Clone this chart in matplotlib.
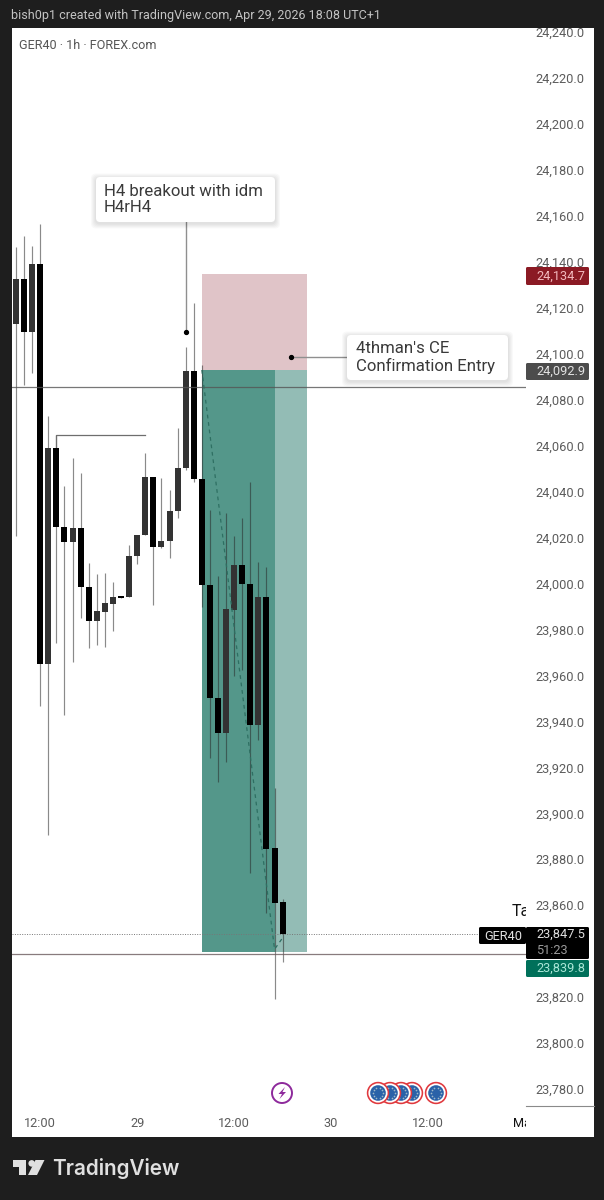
import numpy as np
import matplotlib
matplotlib.use("Agg")
import matplotlib.pyplot as plt
from matplotlib.patches import Rectangle, FancyBboxPatch, Circle, Polygon

plt.rcParams['font.family'] = ['Roboto', 'DejaVu Sans']

# ---- data ----
highs  = [24146.4,24151.2,24146.9,24156.5,24072.9,24064.6,24042.4,24054.6,24048.1,24008.9,24004.1,24004.6,24000.7,23994.3,24016.8,24021.1,24056.8,24046.3,24045.9,24040.7,24067.7,24102.9,24122.1,24095.1,24032.0,24003.3,24030.7,24020.7,24028.5,24044.2,24009.4,24007.2,23911.0,23862.7]
opens  = [24112.9,24132.5,24109.5,24139.1,23965.0,24059.0,24024.6,24018.1,24024.2,23998.5,23983.7,23987.6,23991.1,23994.3,23994.1,24012.0,24021.1,24046.3,24015.9,24018.5,24031.6,24050.3,24092.5,24045.5,23999.4,23950.2,23934.9,23988.5,24008.1,23999.8,23938.4,23994.1,23884.9,23861.4]
closes = [24132.5,24109.5,24139.1,23965.0,24059.0,24024.6,24018.1,24024.2,23998.5,23983.7,23988.0,23991.5,23994.1,23993.9,24012.0,24021.1,24046.3,24015.9,24018.5,24031.6,24050.3,24092.5,24045.5,23999.4,23950.2,23934.9,23988.9,24008.1,23999.8,23938.4,23994.1,23884.5,23861.0,23847.5]
lows   = [24020.7,24086.4,24091.6,23946.7,23890.5,23974.1,23942.8,23965.8,23985.0,23971.9,23973.2,23972.4,23979.3,23993.9,23994.1,24008.5,24021.1,23990.6,24015.5,24011.1,24028.5,24049.4,24044.2,23989.8,23924.1,23913.6,23922.3,23959.7,23962.4,23874.0,23931.9,23856.6,23819.2,23835.3]

# the 23,840 label is hidden behind the price tags in the reference
price_ticks = [p for p in range(23780, 24241, 20) if p != 23840]
time_ticks = [3, 15, 27, 39, 51, 63]
time_labels = ['12:00', '29', '12:00', '30', '12:00', 'May']

stop_price = 24134.7
entry_price = 24092.9
target_price = 23839.8
last_price = 23847.5
h_line_price = 24085.5
low_line_price = 23838.8
zone_start, zone_now, zone_end = 23.0, 32.1, 36.0
swing_price, swing_start, swing_end = 24064.6, 5, 16
idm_marker = (21, 24109.4)
ce_marker = (34, 24098.6)

# ---- layout ----
W, H = 604, 1200
fig = plt.figure(figsize=(W/100, H/100), dpi=100, facecolor='#1e1e1e')

def pix_axes(z):
    a = fig.add_axes([0, 0, 1, 1], zorder=z)
    a.set_xlim(0, W); a.set_ylim(H, 0); a.axis('off'); a.patch.set_alpha(0)
    return a

bg = pix_axes(0)
bg.add_patch(Rectangle((12, 28), 582, 1109, fc='white', ec='none'))

L, R, T, B = 12, 526, 28, 1106
ax = fig.add_axes([L/W, 1-B/H, (R-L)/W, (B-T)/H], zorder=1)
ax.patch.set_alpha(0)
for s in ax.spines.values():
    s.set_visible(False)
x0, dx = 16.0, 8.08
ax.set_xlim((L-x0)/dx, (R-x0)/dx)
k = 0.43522
ax.set_ylim(24253.95-k*B, 24253.95-k*T)
ax.yaxis.tick_right()
ax.set_yticks(price_ticks)
ax.set_yticklabels([f'{v:,.1f}' for v in price_ticks], fontsize=9.2, color='#5c5c5c')
ax.set_xticks(time_ticks)
ax.set_xticklabels(time_labels, fontsize=9.2, color='#5c5c5c')
ax.get_xticklabels()[-1].set_color('#111111')
ax.tick_params(axis='y', length=0, pad=7)
ax.tick_params(axis='x', length=0, pad=8)

# zones
ax.add_patch(Rectangle((zone_start, entry_price), zone_end-zone_start, stop_price-entry_price, fc='#e0c4c8', ec='none', zorder=1))
ax.add_patch(Rectangle((zone_start, target_price), zone_end-zone_start, entry_price-target_price, fc='#93bcb5', ec='none', zorder=1))
ax.add_patch(Rectangle((zone_start, target_price), zone_now-zone_start, entry_price-target_price, fc='#54978a', ec='none', zorder=1.1))

# horizontal lines
ax.axhline(h_line_price, color='#555555', lw=0.9, alpha=0.8, zorder=4)
ax.axhline(low_line_price, color='#6b5a5c', lw=0.9, alpha=0.8, zorder=4)
ax.axhline(last_price, color='#777777', lw=0.7, ls=(0, (1, 1.5)), zorder=4)

# candles
idx = np.arange(len(highs))
ax.vlines(idx, lows, highs, color='#2a2a2a', lw=0.85, alpha=0.55, zorder=2)
for i, o, c in zip(idx, opens, closes):
    col = '#333333' if c > o else '#000000'
    lo, hi = min(o, c), max(o, c)
    ax.add_patch(Rectangle((i-0.37, lo), 0.74, max(hi-lo, 0.5), fc=col, ec='none', zorder=3))

# swing line, dashed path
ax.plot([swing_start, swing_start, swing_end], [opens[5], swing_price, swing_price], color='#6e6e6e', lw=0.9, zorder=2)
ax.plot([zone_start, zone_now-0.1, zone_now+0.9], [entry_price, target_price+1, target_price+6], color='#2e6f62', lw=0.9, ls=(0, (3, 3)), zorder=4)

# markers & leaders
ax.plot([idm_marker[0]], [idm_marker[1]], 'o', color='black', ms=2.8, zorder=5)
ax.plot([idm_marker[0]]*2, [idm_marker[1], 24253.95-k*222], color='#8f8f8f', lw=1.0, zorder=2)
ax.plot([ce_marker[0]], [ce_marker[1]], 'o', color='black', ms=2.8, zorder=5)
ax.plot([ce_marker[0], 41], [ce_marker[1]]*2, color='#8f8f8f', lw=1.0, zorder=2)

# clipped text at the right of the plot
ax.text((512-x0)/dx, 24253.95-k*912, 'Ta', fontsize=11.5, color='#111111', va='center', ha='left', clip_on=True, zorder=5)

# ---- foreground ----
fg = pix_axes(2)
fg.add_patch(Rectangle((0, 0), W, 28, fc='#1e1e1e', ec='none'))
fg.add_patch(Rectangle((0, 1137), W, 63, fc='#1e1e1e', ec='none'))
fg.add_patch(Rectangle((526, 1106), 68, 31, fc='white', ec='none'))
fg.plot([526, 594], [1106, 1106], color='#8a8a8a', lw=0.8)

fg.text(11, 16, 'bish0p1 created with TradingView.com, Apr 29, 2026 18:08 UTC+1', fontsize=9.0, color='#c4c4c4', va='center')
fg.text(19, 45.5, 'GER40 · 1h · FOREX.com', fontsize=9.1, color='#555555', va='center')

def callout(x, y, w, h, txt, tx):
    for d in (5, 4, 3, 2, 1):
        fg.add_patch(FancyBboxPatch((x-d, y-d+1.5), w+2*d, h+2*d, boxstyle='round,pad=0,rounding_size=5', fc='black', ec='none', alpha=0.022))
    fg.add_patch(FancyBboxPatch((x, y), w, h, boxstyle='round,pad=0,rounding_size=4', fc='white', ec='none'))
    fg.text(tx, y+h/2, txt, fontsize=12.1, color='#3a3a3a', va='center', linespacing=1.12)

callout(96, 177, 179, 45, 'H4 breakout with idm\nH4rH4', 104)
callout(347, 335, 161, 45, "4thman's CE\nConfirmation Entry", 356)

def tag(y0, y1, fc, txt, col, x1=589):
    fg.add_patch(FancyBboxPatch((527, y0+1), x1-528, y1-y0-2, boxstyle='round,pad=1,rounding_size=1.5', fc=fc, ec='none'))
    fg.text(536, (y0+y1)/2, txt, fontsize=9.2, color=col, va='center')

tag(267, 285, '#8b1a24', f'{stop_price:,.1f}', '#f2b8bd')
tag(363, 380, '#4c4c4c', f'{entry_price:,.1f}', '#e2e2e2')
tag(960, 977, '#00705a', f'{target_price:,.1f}', '#a9e6d6')
fg.add_patch(FancyBboxPatch((527, 928), 61, 30, boxstyle='round,pad=1,rounding_size=1.5', fc='black', ec='none'))
fg.add_patch(FancyBboxPatch((480, 928), 45, 15, boxstyle='round,pad=1,rounding_size=1.5', fc='black', ec='none'))
fg.text(536, 934.5, f'{last_price:,.1f}', fontsize=9.2, color='#e0e0e0', va='center')
fg.text(536, 950, '51:23', fontsize=9.2, color='#9a9a9a', va='center')
fg.text(484, 936, 'GER40', fontsize=9.2, color='#e0e0e0', va='center')

# icons
fg.add_patch(Circle((282, 1093), 10, fc='white', ec='#8e2a9c', lw=1.4))
fg.add_patch(Polygon([(285, 1087), (278.5, 1094), (282, 1094), (279.5, 1099), (286, 1092), (282.5, 1092)], fc='#8e2a9c', ec='none'))

def flag(cx):
    fg.add_patch(Circle((cx, 1093), 11.2, fc='#e0393e', ec='none'))
    fg.add_patch(Circle((cx, 1093), 9.6, fc='white', ec='none'))
    fg.add_patch(Circle((cx, 1093), 7.8, fc='#2a62a8', ec='none'))
    a = np.deg2rad(np.arange(0, 360, 36))
    fg.scatter(cx+5*np.cos(a), 1093+5*np.sin(a), s=1.5, color='#9fb8c8', lw=0)

for c in [436, 412, 401, 390, 378]:
    flag(c)

# logo
lc = '#e0e0e0'
fg.add_patch(Polygon([(13, 1160), (26, 1160), (26, 1175), (18.5, 1175), (18.5, 1167), (13, 1167)], fc=lc, ec='none'))
fg.add_patch(Circle((31.7, 1163.4), 3.3, fc=lc, ec='none'))
fg.add_patch(Polygon([(35.5, 1160), (44.5, 1160), (37, 1175), (28, 1175)], fc=lc, ec='none'))
fg.text(52, 1168.5, 'TradingView', fontsize=14.9, family='Inter', color=lc, fontweight='semibold', va='center')

fig.savefig('out.png', dpi=100, facecolor=fig.get_facecolor())
